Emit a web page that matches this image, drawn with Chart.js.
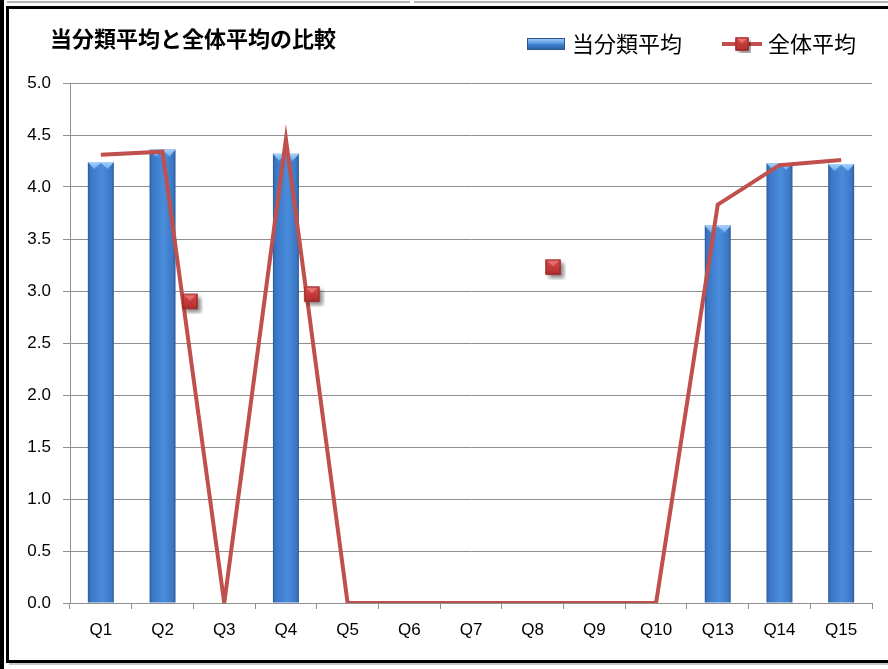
<!DOCTYPE html>
<html lang="ja">
<head>
<meta charset="utf-8">
<title>当分類平均と全体平均の比較</title>
<script src="https://cdn.jsdelivr.net/npm/chart.js@4.4.0/dist/chart.umd.min.js"></script>
<style>
  html, body { margin: 0; padding: 0; background: #fff; overflow: hidden; }
  #wrap { position: relative; width: 888px; height: 669px; }
  #c { position: absolute; left: 0; top: 0; }
  .fr { position: absolute; pointer-events: none; }
</style>
</head>
<body>
<div id="wrap">
  <canvas id="c" width="888" height="669"></canvas>
  <div class="fr" style="left:0;top:0;width:4px;height:669px;background:#000"></div>
  <div class="fr" style="left:7px;top:1px;width:403px;height:2px;background:#b4b4b4"></div>
  <div class="fr" style="left:414px;top:1px;width:474px;height:2px;background:#b4b4b4"></div>
  <div class="fr" style="left:6px;top:6px;width:890px;height:651px;border:3px solid #000;border-right:none"></div>
  <div class="fr" style="left:9px;top:663px;width:879px;height:2px;background:#c8c8c8"></div>
</div>
<script>
// ---- data ----
const categories = ['Q1','Q2','Q3','Q4','Q5','Q6','Q7','Q8','Q9','Q10','Q13','Q14','Q15'];
const categoryAverage = [4.24, 4.36, 0, 4.32, 0, 0, 0, 0, 0, 0, 3.63, 4.23, 4.22];
const overallAverage  = [4.31, 4.34, 0, 4.46, 0, 0, 0, 0, 0, 0, 3.83, 4.21, 4.26];
// stray markers of 全体平均 (x as category position index)
const markerX = [1.445, 3.42, 7.33];
const markerY = [2.90, 2.97, 3.23];
const yTicks = [0, 0.5, 1, 1.5, 2, 2.5, 3, 3.5, 4, 4.5, 5];
const seriesNames = ['当分類平均', '全体平均'];
const chartTitle = '当分類平均と全体平均の比較';

// ---- swatch / marker images ----
function makeMarker(size, side) {
  const cv = document.createElement('canvas');
  cv.width = size; cv.height = size;
  const g = cv.getContext('2d');
  const c = size / 2, h = side / 2;
  const x0 = c - h, y0 = c - h;
  g.save();
  g.shadowColor = 'rgba(0,0,0,0.45)';
  g.shadowBlur = 4; g.shadowOffsetX = 3; g.shadowOffsetY = 3;
  g.fillStyle = '#b83634';
  g.fillRect(x0, y0, side, side);
  g.restore();
  const gr = g.createLinearGradient(0, y0, 0, y0 + side);
  gr.addColorStop(0, '#d84a48'); gr.addColorStop(1, '#b02e2c');
  g.fillStyle = gr; g.fillRect(x0, y0, side, side);
  g.fillStyle = 'rgba(255,150,150,0.55)';
  g.beginPath(); g.moveTo(x0, y0); g.lineTo(x0 + side, y0); g.lineTo(c, c - 1); g.closePath(); g.fill();
  g.strokeStyle = '#8e2a28'; g.lineWidth = 1;
  g.strokeRect(x0 + 0.5, y0 + 0.5, side - 1, side - 1);
  return cv;
}
const markerImg = makeMarker(26, 15);

function makeBarSwatch() {
  const cv = document.createElement('canvas');
  cv.width = 40; cv.height = 12;
  const g = cv.getContext('2d');
  const gr = g.createLinearGradient(0, 0, 0, 12);
  gr.addColorStop(0, '#a9d0f7'); gr.addColorStop(0.45, '#5b9be3'); gr.addColorStop(0.55, '#3f7fcc'); gr.addColorStop(1, '#2a5d9e');
  g.fillStyle = gr; g.fillRect(1, 0, 38, 12);
  g.strokeStyle = '#2b5690'; g.lineWidth = 1; g.strokeRect(1.5, 0.5, 37, 11);
  return cv;
}
function makeLineSwatch() {
  const cv = document.createElement('canvas');
  cv.width = 40; cv.height = 18;
  const g = cv.getContext('2d');
  g.strokeStyle = '#c0504d'; g.lineWidth = 4;
  g.beginPath(); g.moveTo(0, 9); g.lineTo(40, 9); g.stroke();
  const m = makeMarker(18, 13);
  g.drawImage(m, 11, 0);
  return cv;
}
const barSwatch = makeBarSwatch();
const lineSwatch = makeLineSwatch();

// ---- bar fill ----
const BAR_W = 26;
function barFill(ctx) {
  const chart = ctx.chart;
  if (ctx.type !== 'data') return '#3a75c4';
  if (!ctx.raw) return 'rgba(0,0,0,0)';
  if (!chart.chartArea) return '#3a75c4';
  const x = chart.scales.x.getPixelForValue(ctx.dataIndex);
  const g = chart.ctx.createLinearGradient(x - BAR_W / 2, 0, x + BAR_W / 2, 0);
  g.addColorStop(0, '#2c5b9c');
  g.addColorStop(0.1, '#3a76c4');
  g.addColorStop(0.55, '#4a8cdc');
  g.addColorStop(0.9, '#3b77c4');
  g.addColorStop(1, '#2d5b9a');
  return g;
}

const bevelPlugin = {
  id: 'bevel',
  afterDatasetDraw(chart, args) {
    if (args.index !== 1) return;
    const ctx = chart.ctx;
    const meta = args.meta;
    meta.data.forEach((bar, i) => {
      if (!categoryAverage[i]) return;
      const l = bar.x - bar.width / 2, r = bar.x + bar.width / 2, t = bar.y;
      ctx.save();
      const g = ctx.createLinearGradient(0, t, 0, t + 8);
      g.addColorStop(0, '#a8d2fa'); g.addColorStop(1, '#62a2ea');
      ctx.fillStyle = g;
      ctx.beginPath();
      ctx.moveTo(l, t); ctx.lineTo(r, t); ctx.lineTo(r - 6, t + 7); ctx.lineTo(l + 6, t + 7); ctx.closePath();
      ctx.fill();
      ctx.fillStyle = '#4889d8';
      ctx.beginPath();
      ctx.moveTo(l + 6, t + 7); ctx.lineTo(r - 6, t + 7); ctx.lineTo(bar.x, t + 1); ctx.closePath();
      ctx.fill();
      ctx.restore();
    });
  }
};

const placePlugin = {
  id: 'place',
  beforeInit(chart) {
    const lg = chart.legend;
    if (lg) { const f = lg.fit; lg.fit = function () { f.call(this); this.height = 83; }; }
    const tb = chart.titleBlock;
    if (tb) { const u = tb.update; tb.update = function (a, b, c) { u.call(this, a, b, c); this.height = 0; }; }
  },
  afterLayout(chart) {
    const lg = chart.legend;
    if (lg) { lg.top = 44 - 45 - 11; lg.right = 901; }
    const tb = chart.titleBlock;
    if (tb) { tb.left = 50; tb.right = 888; tb.top = 39 - 13.2; tb.bottom = tb.top + 26.4; tb.height = 26.4; }
  }
};

const gridGray = '#8f8f8f';
const tickFont = { family: "'Liberation Sans', Arial, sans-serif", size: 17 };

new Chart(document.getElementById('c'), {
  type: 'bar',
  data: {
    labels: categories,
    datasets: [
      {
        type: 'line',
        label: seriesNames[1],
        data: overallAverage,
        borderColor: '#c0504d',
        borderWidth: 4,
        pointRadius: 0,
        tension: 0,
        fill: false,
        order: 1
      },
      {
        type: 'bar',
        label: seriesNames[0],
        data: categoryAverage,
        backgroundColor: barFill,
        borderWidth: 0,
        grouped: false,
        categoryPercentage: 1,
        barPercentage: 0.9,
        maxBarThickness: BAR_W,
        order: 2
      },
      {
        type: 'scatter',
        label: seriesNames[1] + ' marker',
        data: markerX.map((x, i) => ({ x: x, y: markerY[i] })),
        xAxisID: 'x2',
        pointStyle: markerImg,
        pointRadius: 8,
        showLine: false,
        order: 0
      }
    ]
  },
  options: {
    responsive: false,
    animation: false,
    devicePixelRatio: 1,
    layout: { padding: { left: 0, right: 16, top: 0, bottom: 0 } },
    plugins: {
      tooltip: { enabled: false },
      title: {
        display: true,
        text: chartTitle,
        align: 'start',
        color: '#000',
        padding: 0,
        font: { family: "'Noto Sans CJK JP', sans-serif", size: 22, weight: 'bold' }
      },
      legend: {
        display: true,
        position: 'top',
        align: 'end',
        labels: {
          usePointStyle: true,
          pointStyleWidth: 30,
          padding: 45,
          color: '#000',
          font: { family: "'Noto Sans CJK JP', sans-serif", size: 22 },
          generateLabels: () => [
            { text: seriesNames[0], pointStyle: barSwatch, fillStyle: 'rgba(0,0,0,0)', strokeStyle: 'rgba(0,0,0,0)', lineWidth: 0, hidden: false, datasetIndex: 1 },
            { text: seriesNames[1], pointStyle: lineSwatch, fillStyle: 'rgba(0,0,0,0)', strokeStyle: 'rgba(0,0,0,0)', lineWidth: 0, hidden: false, datasetIndex: 0 }
          ]
        }
      }
    },
    scales: {
      x: {
        type: 'category',
        offset: true,
        grid: { display: true, drawOnChartArea: false, drawTicks: true, tickLength: 6, color: gridGray, offset: true },
        border: { display: true, color: gridGray, width: 1 },
        ticks: { color: '#000', font: tickFont, padding: 11, maxRotation: 0, autoSkip: false },
        afterFit: (s) => { s.height = 66; }
      },
      x2: {
        type: 'linear',
        display: false,
        offset: false,
        bounds: 'data',
        min: -0.5,
        max: 12.5,
        grid: { offset: false }
      },
      y: {
        min: 0,
        max: 5,
        afterBuildTicks: (s) => { s.ticks = yTicks.map(v => ({ value: v })); },
        grid: { color: gridGray, lineWidth: 1, tickLength: 7 },
        border: { display: true, color: gridGray, width: 1 },
        ticks: { color: '#000', font: tickFont, padding: 12, callback: (v) => Number(v).toFixed(1) },
        afterFit: (s) => { s.width = 70; }
      }
    }
  },
  plugins: [bevelPlugin, placePlugin]
});
</script>
</body>
</html>
